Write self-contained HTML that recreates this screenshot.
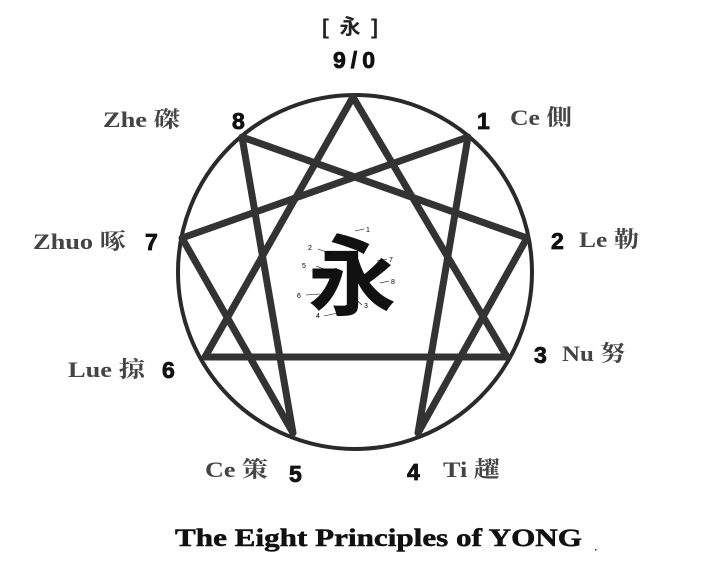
<!DOCTYPE html>
<html><head><meta charset="utf-8"><style>
html,body{margin:0;padding:0;background:#fff;}
svg{display:block;}
.l{font-family:"Liberation Serif","Noto Serif CJK SC",serif;font-weight:bold;font-size:22px;fill:#444;}
.n{font-family:"Liberation Sans",sans-serif;font-weight:900;font-size:23px;fill:#111;stroke:#111;stroke-width:0.8;}
.s{font-family:"Liberation Sans",sans-serif;font-size:7px;fill:#000;}
</style></head><body>
<svg width="702" height="573" viewBox="0 0 702 573" xmlns="http://www.w3.org/2000/svg">
<rect width="702" height="573" fill="#fff"/>
<circle cx="355" cy="272" r="177" fill="none" stroke="#2a2a2a" stroke-width="4"/>
<g fill="none" stroke="#333" stroke-width="7" stroke-linejoin="round" stroke-linecap="round">
<polygon points="353,97 507,357 205,357"/>
<polygon points="468,137 418,433 527,238 242,137 293,433 182,238"/>
</g>
<text x="322" y="34" textLength="56" style="font-family:'Liberation Sans','Noto Sans CJK SC',sans-serif;font-weight:bold;font-size:21px;fill:#222">[ 永 ]</text>
<text class="n" x="333" y="68" textLength="42">9/0</text>
<text class="l" x="103" y="127" textLength="77" lengthAdjust="spacingAndGlyphs">Zhe 磔</text>
<text class="n" x="232" y="129">8</text>
<text class="n" x="477" y="129">1</text>
<text class="l" x="510" y="125" textLength="62" lengthAdjust="spacingAndGlyphs">Ce 側</text>
<text class="l" x="33" y="249" textLength="93" lengthAdjust="spacingAndGlyphs">Zhuo 啄</text>
<text class="n" x="145" y="250">7</text>
<text class="n" x="551" y="249">2</text>
<text class="l" x="579" y="247" textLength="60" lengthAdjust="spacingAndGlyphs">Le 勒</text>
<text class="l" x="68" y="377" textLength="77" lengthAdjust="spacingAndGlyphs">Lue 掠</text>
<text class="n" x="162" y="378">6</text>
<text class="n" x="534" y="363">3</text>
<text class="l" x="562" y="361" textLength="63" lengthAdjust="spacingAndGlyphs">Nu 努</text>
<text class="l" x="205" y="477" textLength="63" lengthAdjust="spacingAndGlyphs">Ce 策</text>
<text class="n" x="289" y="482">5</text>
<text class="n" x="407" y="480">4</text>
<text class="l" x="443" y="477" textLength="57" lengthAdjust="spacingAndGlyphs">Ti 趯</text>
<text x="352" y="308" text-anchor="middle" style="font-family:'Noto Sans CJK SC',sans-serif;font-weight:bold;font-size:88px;fill:#111">永</text>
<g stroke="#000" stroke-width="0.6">
<line x1="355" y1="231" x2="364" y2="229"/><line x1="318" y1="249" x2="332" y2="254"/>
<line x1="316" y1="266" x2="332" y2="272"/><line x1="377" y1="261" x2="387" y2="259"/>
<line x1="380" y1="283" x2="389" y2="281"/><line x1="306" y1="295" x2="320" y2="294"/>
<line x1="352" y1="296" x2="362" y2="305"/><line x1="324" y1="316" x2="338" y2="313"/>
</g>
<text class="s" x="366" y="232">1</text><text class="s" x="308" y="250">2</text>
<text class="s" x="302" y="268">5</text><text class="s" x="389" y="262">7</text>
<text class="s" x="391" y="284">8</text><text class="s" x="297" y="298">6</text>
<text class="s" x="364" y="308">3</text><text class="s" x="316" y="318">4</text>
<text x="175" y="546" textLength="407" lengthAdjust="spacingAndGlyphs" style="font-family:'Liberation Serif',serif;font-weight:bold;font-size:25px;fill:#111;stroke:#111;stroke-width:0.5">The Eight Principles of YONG</text>
<rect x="595" y="549" width="1.5" height="1.5" fill="#333"/>
</svg>
</body></html>
